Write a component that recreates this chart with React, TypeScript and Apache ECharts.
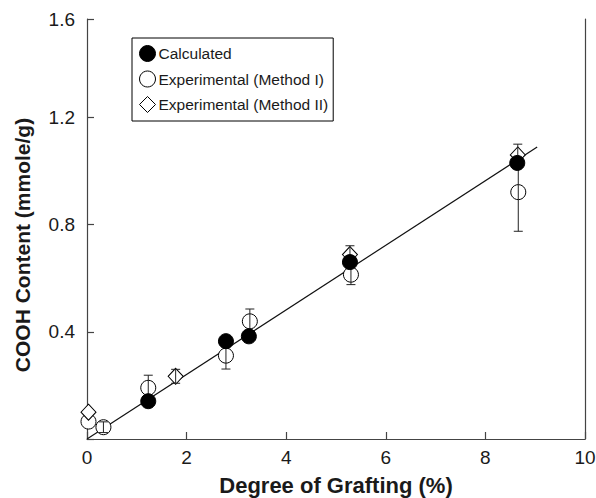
import React, { useEffect, useRef } from "react";
import * as echarts from "echarts";

// Calculated COOH content
const calcX = [1.23, 2.79, 3.25, 5.28, 8.64];
const calcY = [0.141, 0.365, 0.383, 0.66, 1.03];

// Experimental, Method I (mean and half-width of error bar)
const m1X = [0.03, 0.33, 1.23, 2.79, 3.27, 5.3, 8.66];
const m1Y = [0.065, 0.044, 0.191, 0.311, 0.439, 0.613, 0.921];
const m1Err = [0, 0.02, 0.047, 0.05, 0.046, 0.037, 0.146];

// Experimental, Method II
const m2X = [0.03, 1.78, 5.28, 8.65];
const m2Y = [0.1, 0.234, 0.688, 1.06];
const m2Err = [0, 0.026, 0.033, 0.04];

// Linear fit through the origin
const fitX = [0, 9.04];
const fitY = [0, 1.089];

const X_MIN = 0;
const X_MAX = 10;
const X_STEP = 2;
const Y_MIN = 0;
const Y_MAX = 1.567;
const Y_STEP = 0.4;
const Y_TOP_LABEL = "1.6";

const NAMES = ["Calculated", "Experimental (Method I)", "Experimental (Method II)"];

const FONT = "'Liberation Sans', Arial, Helvetica, sans-serif";
const INK = "#1a1a1a";
const AXIS = "#444";

const pairs = (xs: number[], ys: number[]) => xs.map((x, i) => [x, ys[i]]);
const errRows = (xs: number[], ys: number[], es: number[]) =>
  xs
    .map((x, i) => [x, ys[i] - es[i], ys[i] + es[i]])
    .filter((_, i) => es[i] > 0);

const renderErr = (_params: any, api: any) => {
  const x = api.value(0);
  const lo = api.coord([x, api.value(1)]);
  const hi = api.coord([x, api.value(2)]);
  const hw = 4.5;
  const style = { stroke: "#222", lineWidth: 1 };
  return {
    type: "group",
    children: [
      { type: "line", shape: { x1: hi[0], y1: hi[1], x2: lo[0], y2: lo[1] }, style },
      { type: "line", shape: { x1: hi[0] - hw, y1: hi[1], x2: hi[0] + hw, y2: hi[1] }, style },
      { type: "line", shape: { x1: lo[0] - hw, y1: lo[1], x2: lo[0] + hw, y2: lo[1] }, style },
    ],
  };
};

export default function App() {
  const ref = useRef<HTMLDivElement>(null);

  useEffect(() => {
    if (!ref.current) return;
    const chart = echarts.init(ref.current, null, { renderer: "svg" });
    const hollow = { color: "#fff", borderColor: "#000", borderWidth: 1, opacity: 1 };
    const solid = { color: "#000", borderColor: "#000", borderWidth: 1, opacity: 1 };

    chart.setOption({
      animation: false,
      backgroundColor: "#fff",
      textStyle: { fontFamily: FONT },
      grid: {
        left: 87,
        right: 11,
        top: 19,
        bottom: 59,
        containLabel: false,
        outerBoundsMode: "none",
      },
      legend: {
        orient: "vertical",
        left: 132,
        top: 38,
        padding: [7, 5, 8, 7],
        itemGap: 8.5,
        itemWidth: 16,
        itemHeight: 16,
        borderColor: "#000",
        borderWidth: 1,
        selectedMode: false,
        textStyle: { fontSize: 15.5, color: INK, fontFamily: FONT, padding: [0, 0, 0, -2] },
        data: [
          { name: NAMES[0], icon: "circle", itemStyle: solid },
          { name: NAMES[1], icon: "circle", itemStyle: hollow },
          { name: NAMES[2], icon: "diamond", itemStyle: hollow },
        ],
      },
      xAxis: {
        type: "value",
        min: X_MIN,
        max: X_MAX,
        interval: X_STEP,
        name: "Degree of Grafting (%)",
        nameLocation: "middle",
        nameGap: 35,
        nameTextStyle: { fontSize: 22, fontWeight: "bold", color: INK, fontFamily: FONT },
        axisLine: { show: true, onZero: false, lineStyle: { color: AXIS, width: 1.2 } },
        axisTick: { show: true, inside: true, length: 7, lineStyle: { color: AXIS, width: 1.2 } },
        axisLabel: { fontSize: 19, color: INK, margin: 9, fontFamily: FONT },
        splitLine: { show: false },
      },
      yAxis: [
        {
          type: "value",
          min: Y_MIN,
          max: Y_MAX,
          interval: Y_STEP,
          axisLine: { show: true, onZero: false, lineStyle: { color: AXIS, width: 1.2 } },
          axisTick: { show: true, inside: true, length: 7, lineStyle: { color: AXIS, width: 1.2 } },
          axisLabel: {
            fontSize: 19,
            color: INK,
            margin: 12,
            fontFamily: FONT,
            showMaxLabel: true,
            formatter: (v: number) =>
              v === 0 ? "" : v >= Y_MAX - 1e-6 ? Y_TOP_LABEL : v.toFixed(1),
          },
          splitLine: { show: false },
        },
        {
          type: "value",
          position: "right",
          min: Y_MIN,
          max: Y_MAX,
          interval: Y_STEP,
          axisLine: { show: true, onZero: false, lineStyle: { color: AXIS, width: 1.2 } },
          axisTick: { show: false },
          axisLabel: { show: false },
          splitLine: { show: false },
        },
      ],
      graphic: [
        {
          type: "text",
          x: 22,
          y: 245,
          rotation: Math.PI / 2,
          style: {
            text: "COOH Content (mmole/g)",
            fill: INK,
            font: `bold 21px ${FONT}`,
            textAlign: "center",
            textVerticalAlign: "middle",
          },
        },
      ],
      series: [
        {
          name: "fit",
          type: "line",
          data: pairs(fitX, fitY),
          showSymbol: false,
          silent: true,
          z: 1,
          lineStyle: { color: "#111", width: 1.2 },
        },
        {
          name: NAMES[1],
          type: "scatter",
          data: pairs(m1X, m1Y),
          symbol: "circle",
          symbolSize: 15,
          itemStyle: hollow,
          z: 2,
        },
        {
          name: "errI",
          type: "custom",
          data: errRows(m1X, m1Y, m1Err),
          renderItem: renderErr,
          encode: { x: 0, y: [1, 2] },
          silent: true,
          z: 3,
        },
        {
          name: NAMES[2],
          type: "scatter",
          data: pairs(m2X, m2Y),
          symbol: "diamond",
          symbolSize: [15, 16],
          itemStyle: hollow,
          z: 4,
        },
        {
          name: "errII",
          type: "custom",
          data: errRows(m2X, m2Y, m2Err),
          renderItem: renderErr,
          encode: { x: 0, y: [1, 2] },
          silent: true,
          z: 5,
        },
        {
          name: NAMES[0],
          type: "scatter",
          data: pairs(calcX, calcY),
          symbol: "circle",
          symbolSize: 15,
          itemStyle: solid,
          z: 6,
        },
      ],
    });

    return () => chart.dispose();
  }, []);

  return (
    <div
      ref={ref}
      style={{ position: "absolute", left: 0, top: 0, width: 596, height: 498 }}
    />
  );
}
